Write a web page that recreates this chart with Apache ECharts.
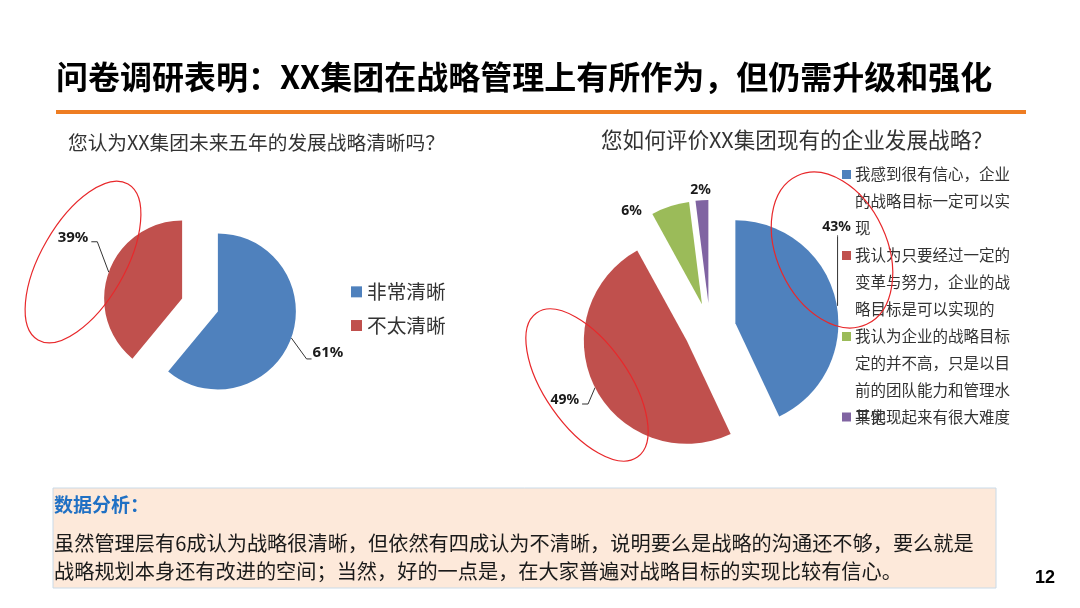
<!DOCTYPE html>
<html><head><meta charset="utf-8">
<script src="https://cdn.jsdelivr.net/npm/echarts@6/dist/echarts.min.js"></script>
<style>html,body{margin:0;padding:0;background:#fff}#c{width:1080px;height:608px}</style>
</head><body><div id="c"></div>
<script>
// ---------- data ----------
const pageTitle = '问卷调研表明：XX集团在战略管理上有所作为，但仍需升级和强化';
const leftQuestion = '您认为XX集团未来五年的发展战略清晰吗？';
const leftCategories = ['非常清晰', '不太清晰'];
const leftValues = [61, 39];
const rightQuestion = '您如何评价XX集团现有的企业发展战略？';
const rightCategories = [
  '我感到很有信心，企业的战略目标一定可以实现',
  '我认为只要经过一定的变革与努力，企业的战略目标是可以实现的',
  '我认为企业的战略目标定的并不高，只是以目前的团队能力和管理水平实现起来有很大难度',
  '其他'
];
const rightValues = [43, 49, 6, 2];
const analysisTitle = '数据分析：';
const analysisLines = [
  '虽然管理层有6成认为战略很清晰，但依然有四成认为不清晰，说明要么是战略的沟通还不够，要么就是',
  '战略规划本身还有改进的空间；当然，好的一点是，在大家普遍对战略目标的实现比较有信心。'
];
const pageNumber = '12';

// ---------- style ----------
const colors = ['#4F81BD', '#C0504D', '#9BBB59', '#8064A2'];
const CJK = '"Noto Sans CJK SC", "Noto Sans", sans-serif';
const leftLine = [[12, 6], [10, 6]];
const rightLine = [[10, 5], [12, 4], [5, 15], [5, 0]];
const leftLabelAdj = [{ dx: -1, dy: 11, line: 'fromLeft' }, { dx: 0, dy: -31, line: 'fromRight' }];
const rightLabelAdj = [
  { dx: -33.4, dy: -71.3, line: 'vertical' },
  { dx: 3.7, dy: 7, line: 'fromRight' },
  { dx: -6.7, dy: 9.5, line: 'none' },
  { dx: 14.4, dy: -5.3, line: 'none' }
];

function makeLabelLayout(adj) {
  return function (p) {
    const a = adj[p.dataIndex];
    const out = { dx: a.dx, dy: a.dy };
    const pts = p.labelLinePoints;
    if (!pts || a.line === 'none') return out;
    const r = p.labelRect;
    const x = r.x + a.dx, y = r.y + a.dy, w = r.width, h = r.height, cy = y + h / 2;
    let p1, p2, p0 = pts[0];
    if (a.line === 'fromLeft') { p2 = [x - 1, cy + 6]; p1 = [p2[0] - 5, p2[1]]; }
    else if (a.line === 'fromRight') { p2 = [x + w + 3, cy + 4]; p1 = [p2[0] + 6, p2[1]]; }
    else { p2 = [x + w / 2 + 1, y + h + 1]; p1 = [p2[0], p2[1] + 1]; p0 = [p2[0], pts[0][1] + 5]; }
    out.labelLinePoints = [p0, p1, p2];
    return out;
  };
}

function chunk(s, n) { const out = []; for (let i = 0; i < s.length; i += n) out.push(s.slice(i, i + n)); return out; }
function legendFmt(name) {
  const idx = rightCategories.indexOf(name);
  return chunk(name, 10).map((l, i) => (i === 0 ? '{m' + idx + '|}{g|}' : '{sp|}') + l).join('\n');
}
const rich = { g: { width: 4 }, sp: { width: 13 } };
colors.forEach((c, i) => { rich['m' + i] = { width: 9, height: 9, backgroundColor: c }; });

const chart = echarts.init(document.getElementById('c'), null, { renderer: 'canvas' });
const ellipseStyle = { fill: 'none', stroke: '#E8282B', lineWidth: 1.2 };
const labelBase = { show: true, position: 'outside', formatter: p => p.value + '%',
  fontWeight: 'bold', color: '#1a1a1a', fontFamily: '"Noto Sans", sans-serif' };
const option = {
  backgroundColor: '#ffffff',
  animation: false,
  title: [
    { text: pageTitle, left: 56, top: 61, padding: 0,
      textStyle: { fontSize: 32, fontWeight: 'bold', color: '#000', fontFamily: CJK } },
    { text: leftQuestion, left: 68, top: 133, padding: 0,
      textStyle: { fontSize: 19.7, fontWeight: 'normal', color: '#333', fontFamily: CJK } },
    { text: rightQuestion, left: 601, top: 129, padding: 0,
      textStyle: { fontSize: 21.6, fontWeight: 'normal', color: '#333', fontFamily: CJK } }
  ],
  legend: [
    { data: leftCategories, orient: 'vertical', left: 351, top: 282, padding: 0,
      itemWidth: 11, itemHeight: 11, itemGap: 14, icon: 'rect', selectedMode: false,
      textStyle: { fontSize: 19.7, color: '#333', fontFamily: CJK } },
    { data: rightCategories.slice(0, 3), orient: 'vertical', left: 837, top: 161, padding: 0,
      itemWidth: 0, itemHeight: 0, itemGap: 0, selectedMode: false, formatter: legendFmt,
      textStyle: { fontSize: 15.5, lineHeight: 27, color: '#333', fontFamily: CJK, rich: rich } },
    { data: rightCategories.slice(3), orient: 'vertical', left: 837, top: 403.5, padding: 0,
      itemWidth: 0, itemHeight: 0, itemGap: 0, selectedMode: false, formatter: legendFmt,
      textStyle: { fontSize: 15.5, lineHeight: 27, color: '#333', fontFamily: CJK, rich: rich } }
  ],
  series: [
    {
      type: 'pie', center: [200, 305], radius: 78, startAngle: 90, clockwise: true,
      selectedMode: 'multiple', selectedOffset: 19, avoidLabelOverlap: false,
      emphasis: { disabled: true },
      label: Object.assign({ fontSize: 15 }, labelBase),
      labelLine: { show: true, lineStyle: { color: '#333', width: 1 } },
      labelLayout: makeLabelLayout(leftLabelAdj),
      data: leftCategories.map((n, i) => ({ name: n, value: leftValues[i], selected: true,
        itemStyle: { color: colors[i] },
        labelLine: { length: leftLine[i][0], length2: leftLine[i][1] } }))
    },
    {
      type: 'pie', center: [710, 329], radius: 103, startAngle: 90, clockwise: true,
      selectedMode: 'multiple', selectedOffset: 26, avoidLabelOverlap: false,
      emphasis: { disabled: true },
      label: Object.assign({ fontSize: 14 }, labelBase),
      labelLine: { show: true, lineStyle: { color: '#333', width: 1 } },
      labelLayout: makeLabelLayout(rightLabelAdj),
      data: rightCategories.map((n, i) => ({ name: n, value: rightValues[i], selected: true,
        itemStyle: { color: colors[i] },
        labelLine: { show: rightLabelAdj[i].line !== 'none', length: rightLine[i][0], length2: rightLine[i][1] } }))
    }
  ],
  graphic: [
    { type: 'rect', z: 1, shape: { x: 56, y: 110, width: 970, height: 4 }, style: { fill: '#EE7D22' } },
    { type: 'rect', z: 0, shape: { x: 53, y: 488, width: 943, height: 100 },
      style: { fill: '#FDE9DA', stroke: '#C9DAE8', lineWidth: 1 } },
    { type: 'text', z: 1, x: 54, y: 505, style: { text: analysisTitle, fontSize: 19, fontWeight: 'bold',
      fontFamily: CJK, fill: '#1F70C4', verticalAlign: 'middle' } },
    { type: 'text', z: 1, x: 54, y: 543, style: { text: analysisLines[0], fontSize: 20.2,
      fontFamily: CJK, fill: '#1a1a1a', verticalAlign: 'middle' } },
    { type: 'text', z: 1, x: 54, y: 571, style: { text: analysisLines[1], fontSize: 20.2,
      fontFamily: CJK, fill: '#1a1a1a', verticalAlign: 'middle' } },
    { type: 'text', z: 1, x: 1045, y: 578, style: { text: pageNumber, fontSize: 18, fontWeight: 'bold',
      fontFamily: '"Liberation Sans", Arial, sans-serif', fill: '#000', align: 'center', verticalAlign: 'middle' } },
    { type: 'ellipse', z: 100, x: 83, y: 262, rotation: -30 * Math.PI / 180,
      shape: { cx: 0, cy: 0, rx: 42, ry: 90 }, style: ellipseStyle },
    { type: 'ellipse', z: 100, x: 587, y: 385, rotation: 35 * Math.PI / 180,
      shape: { cx: 0, cy: 0, rx: 42, ry: 88 }, style: ellipseStyle },
    { type: 'ellipse', z: 100, x: 832, y: 250, rotation: 25 * Math.PI / 180,
      shape: { cx: 0, cy: 0, rx: 55, ry: 82 }, style: ellipseStyle }
  ]
};
chart.setOption(option);
</script>
</body></html>
